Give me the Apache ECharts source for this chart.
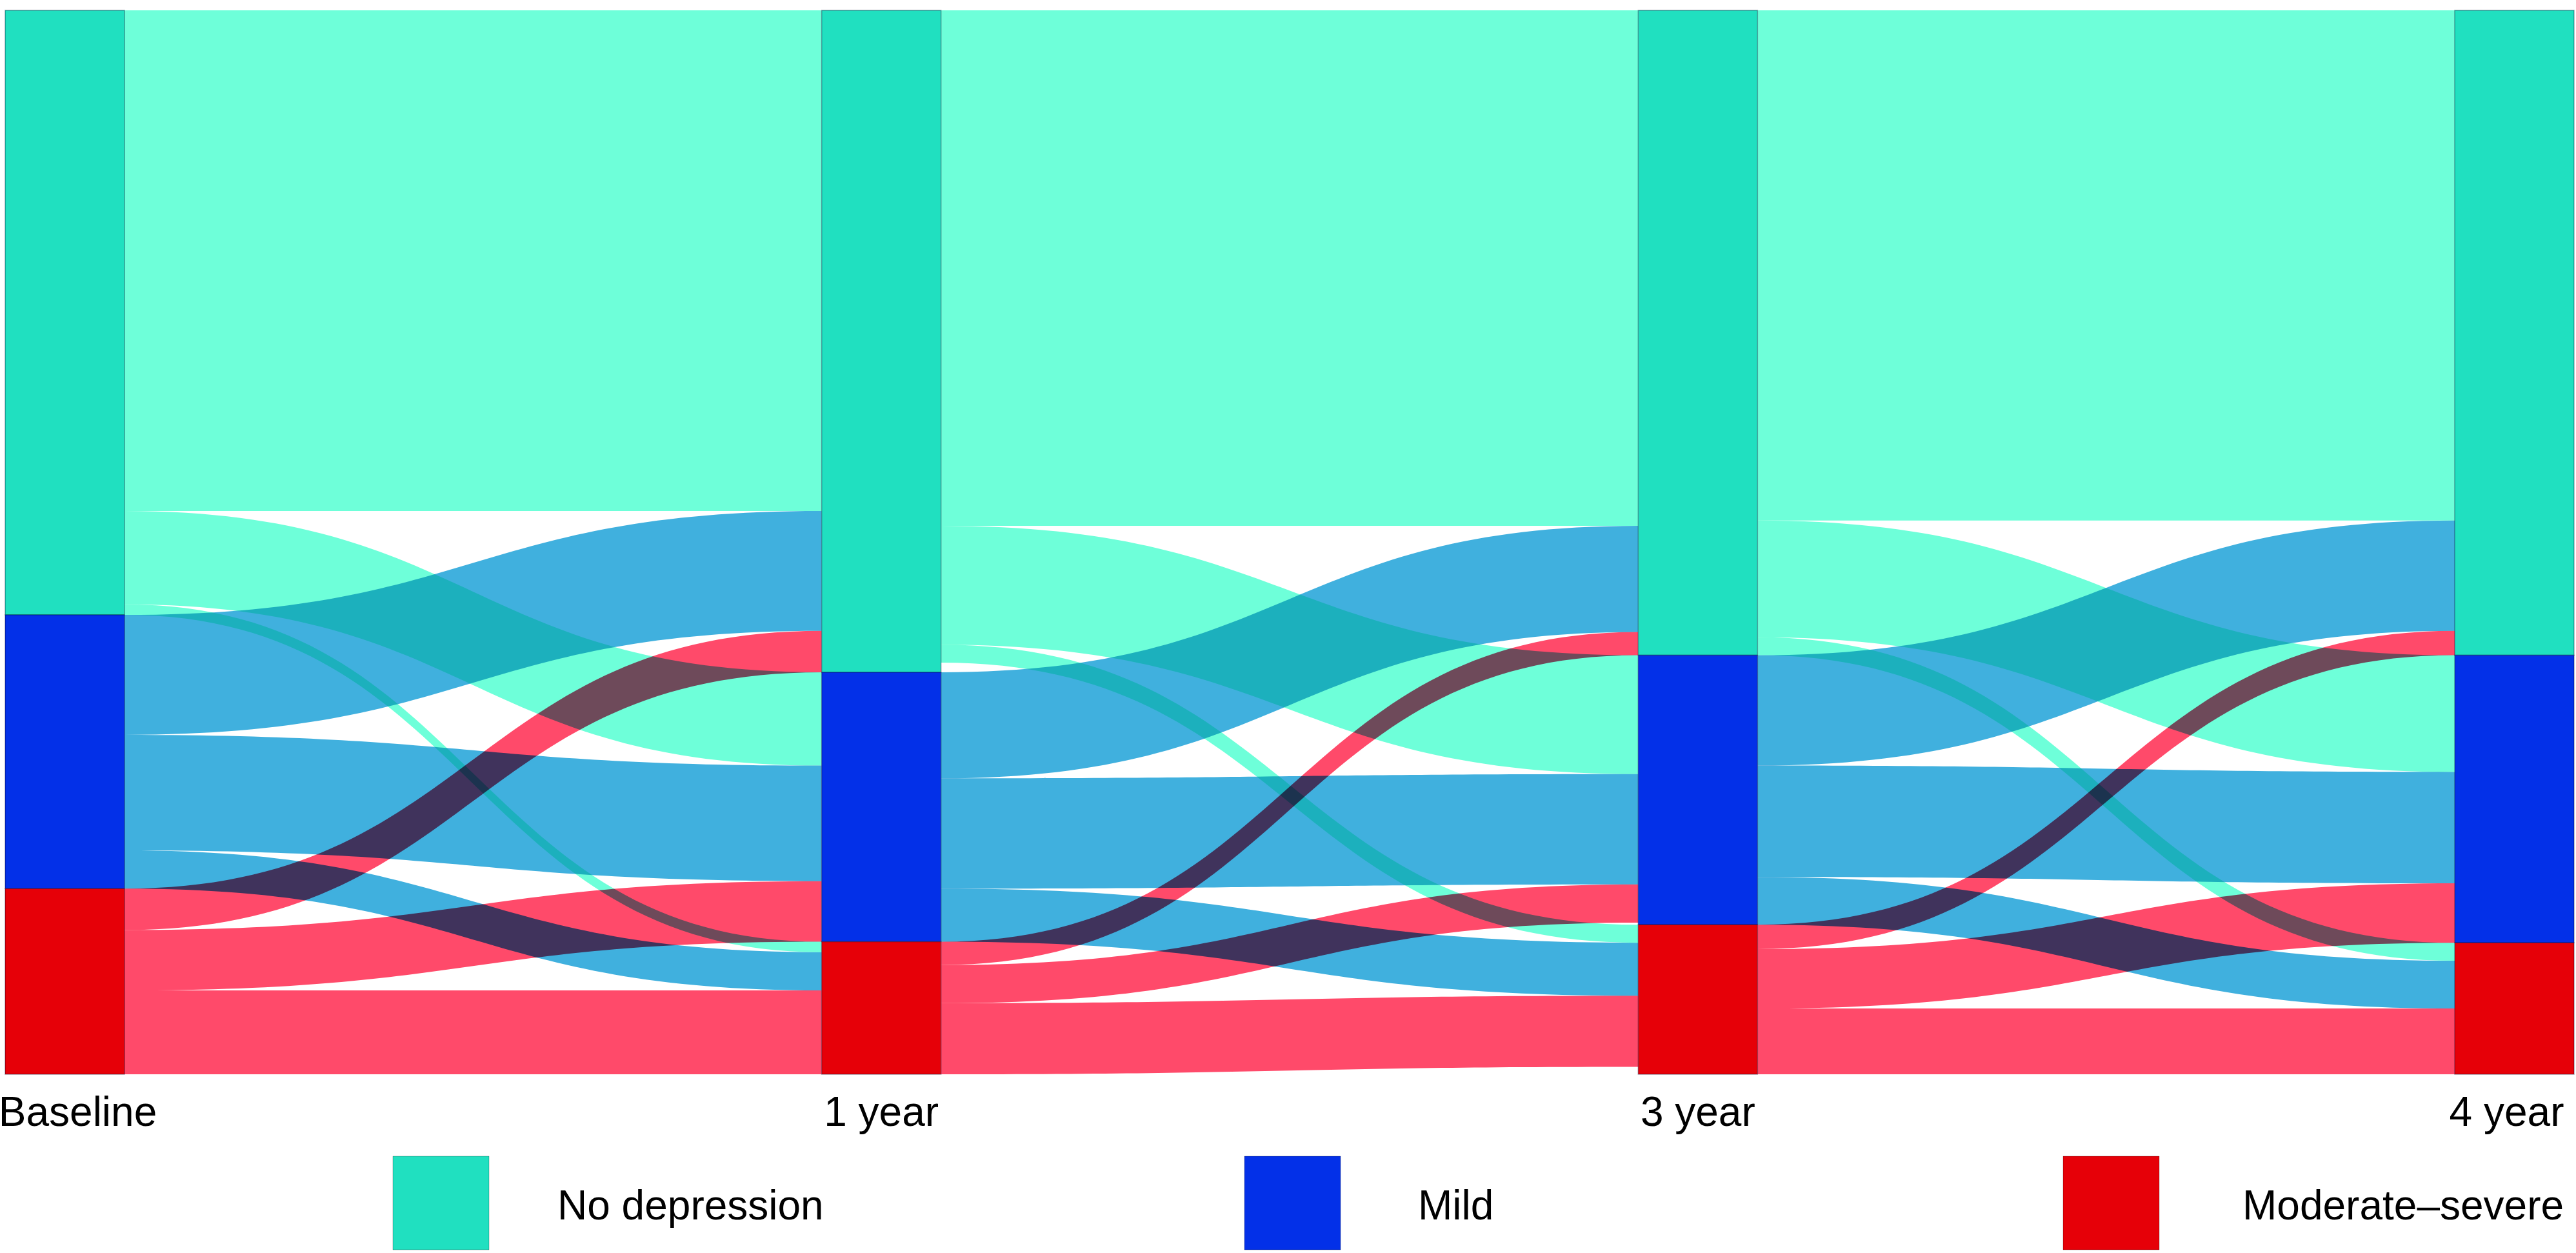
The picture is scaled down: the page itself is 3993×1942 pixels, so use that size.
<!DOCTYPE html>
<html>
<head>
<meta charset="utf-8">
<title>Depression severity over time</title>
<script src="https://cdn.jsdelivr.net/npm/echarts@6/dist/echarts.min.js"></script>
<style>
  html, body { margin: 0; padding: 0; background: #fff; }
  #chart { width: 3993px; height: 1942px; }
</style>
</head>
<body>
<div id="chart"></div>
<script>
// waves and severity groups
const stages = ['Baseline', '1 year', '3 year', '4 year']
const categories = ['No depression', 'Mild', 'Moderate–severe']

// node / band colours per severity group
const nodeColors = ['#20e0c0', '#0330e8', '#e60008']
const linkColors = ['#6effd9', '#40b0de', '#ff4a6a']

// flows in % of sample, rows = from group, cols = to group
const flowsBaseTo1 = [
  [47.2, 8.8, 1.0],
  [11.3, 10.9, 3.6],
  [3.9, 5.7, 7.9]
]
const flows1To3 = [
  [48.6, 11.2, 1.7],
  [10.0, 10.4, 5.0],
  [2.2, 3.6, 6.7]
]
const flows3To4 = [
  [48.1, 11.0, 1.7],
  [10.4, 10.5, 4.5],
  [2.3, 5.6, 6.2]
]
const transitions = [flowsBaseTo1, flows1To3, flows3To4]

const nodeName = (s, c) => stages[s] + ' · ' + categories[c]

// wave label sits under the bottom node of each column
const labelShift = [[20, 0], [0, 0], [0, 0], [-12, 0]]

const nodes = []
stages.forEach((stage, s) => {
  categories.forEach((cat, c) => {
    const bottom = c === categories.length - 1
    nodes.push({
      name: nodeName(s, c),
      itemStyle: { color: nodeColors[c] },
      label: bottom
        ? { show: true, position: 'bottom', distance: 30, formatter: stage, offset: labelShift[s] }
        : { show: false }
    })
  })
})

const links = []
transitions.forEach((flows, t) => {
  flows.forEach((row, i) => {
    row.forEach((v, j) => {
      links.push({
        source: nodeName(t, i),
        target: nodeName(t + 1, j),
        value: v,
        lineStyle: { color: linkColors[i] }
      })
    })
  })
})

const FONT = '"Liberation Sans", Arial, sans-serif'

// legend drawn as plain shapes (sankey has no per-category legend)
const legendX = [609, 1929, 3198]
const legendTextX = [864, 2198, 3476]
const legendGraphic = []
categories.forEach((cat, c) => {
  legendGraphic.push({
    type: 'rect',
    x: legendX[c], y: 1792,
    shape: { width: 149, height: 145 },
    style: { fill: nodeColors[c], stroke: 'rgba(0,0,0,0.25)', lineWidth: 1 }
  })
  legendGraphic.push({
    type: 'text',
    x: legendTextX[c], y: 1872,
    style: {
      text: cat, fill: '#000', font: '64px ' + FONT,
      textAlign: 'left', textVerticalAlign: 'middle'
    }
  })
})

const chart = echarts.init(document.getElementById('chart'))
chart.setOption({
  animation: false,
  backgroundColor: '#fff',
  textStyle: { fontFamily: FONT },
  graphic: legendGraphic,
  series: [{
    type: 'sankey',
    left: 8,
    right: 3,
    top: 16,
    bottom: 277,
    nodeWidth: 185,
    nodeGap: 0,
    nodeAlign: 'justify',
    layoutIterations: 0,
    draggable: false,
    emphasis: { disabled: true },
    label: { show: false, color: '#000', fontSize: 64, fontFamily: FONT },
    itemStyle: { borderWidth: 1.5, borderColor: 'rgba(0,0,40,0.35)' },
    lineStyle: { opacity: 1, curveness: 0.5 },
    data: nodes,
    links: links
  }]
})

// overlapping bands darken each other like in the source figure
function multiplyBands() {
  const zr = chart.getZr()
  zr.storage.getDisplayList(true).forEach(el => {
    if (el.shape && el.shape.cpx1 !== undefined) {
      el.style.blend = 'multiply'
      el.markRedraw()
    }
  })
  zr.refresh()
}
multiplyBands()
</script>
</body>
</html>
